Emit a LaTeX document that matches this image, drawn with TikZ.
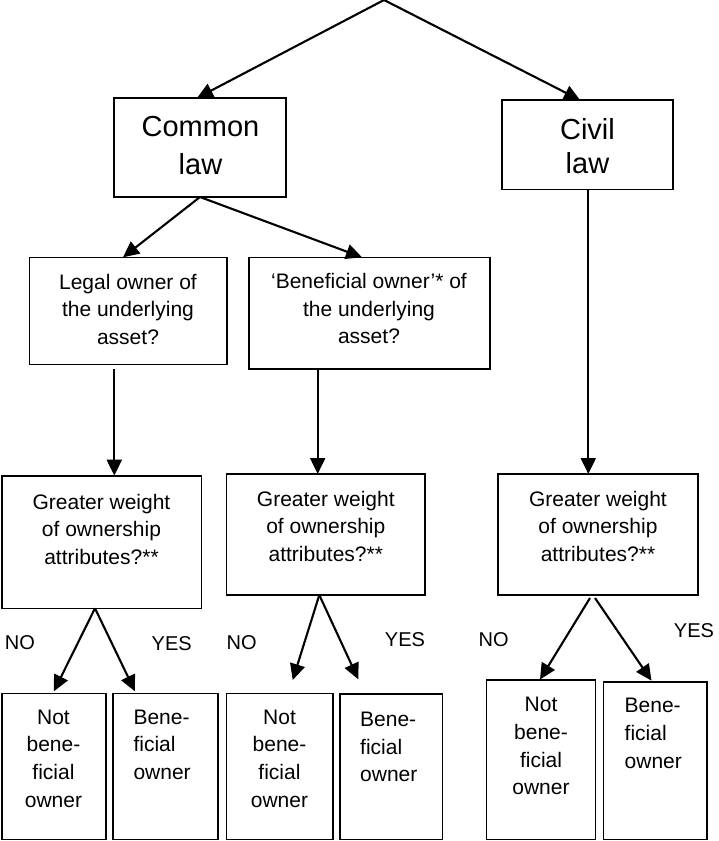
\documentclass[tikz,border=0pt]{standalone}
\usepackage{fontspec}
\setmainfont{Liberation Sans}
\usetikzlibrary{arrows.meta}
\newcommand\ctab[1]{\begin{tabular}[t]{@{}c@{}}#1\end{tabular}}
\newcommand\ltab[1]{\begin{tabular}[t]{@{}l@{}}#1\end{tabular}}
\begin{document}
\begin{tikzpicture}[x=1pt,y=-1pt,
  box/.style={draw, line width=1.6pt, rectangle, inner sep=0pt, outer sep=0pt},
  arr/.style={line width=2.1pt, -{Triangle[length=16pt,width=15pt]}},
  bigtxt/.style={inner sep=0pt, font=\fontsize{29}{38}\selectfont},
  civtxt/.style={inner sep=0pt, font=\fontsize{29}{34}\selectfont},
  smtxt/.style={inner sep=0pt, font=\fontsize{21}{27.7}\selectfont},
  lbl/.style={inner sep=0pt, font=\fontsize{20}{24}\selectfont}]
\useasboundingbox (0,0) rectangle (719,841);
\fill[white] (0,0) rectangle (719,841);
% boxes
\node[box, minimum width=172pt, minimum height=99pt] (common) at (200,147.5) {};
\node[box, minimum width=171pt, minimum height=89.5pt] (civil) at (587.5,144.75) {};
\node[box, minimum width=197.4pt, minimum height=107pt] (legal) at (128,310.8) {};
\node[box, minimum width=241.3pt, minimum height=111.7pt] (benef) at (369.35,313.15) {};
\node[box, minimum width=199.3pt, minimum height=132.6pt] (gw1) at (101.85,542) {};
\node[box, minimum width=198.5pt, minimum height=121pt] (gw2) at (325.75,534.5) {};
\node[box, minimum width=200pt, minimum height=121pt] (gw3) at (598,534.5) {};
\node[box, minimum width=104.2pt, minimum height=146.2pt] (nb1) at (53.9,766.4) {};
\node[box, minimum width=105.5pt, minimum height=146.2pt] (b1) at (165.45,766.4) {};
\node[box, minimum width=106.7pt, minimum height=146.2pt] (nb2) at (279.85,766.4) {};
\node[box, minimum width=102.7pt, minimum height=145.5pt] (b2) at (391.05,766.75) {};
\node[box, minimum width=109pt, minimum height=159.5pt] (nb3) at (541,759.75) {};
\node[box, minimum width=103.5pt, minimum height=157.8pt] (b3) at (655.25,760.6) {};
% texts
\node[bigtxt, anchor=base] (commonT) at (200.5,136.7) {\ctab{Common\\law}};
\node[civtxt, anchor=base] (civilT) at (587.5,139.3) {\ctab{Civil\\law}};
\node[smtxt, anchor=base] (legalT) at (128,289) {\ctab{Legal owner of\\the underlying\\asset?}};
\node[smtxt, anchor=base] (benefT) at (369,288.5) {\ctab{‘Beneficial owner’* of\\the underlying\\asset?}};
\node[smtxt, anchor=base] (gw1T) at (101.5,509) {\ctab{Greater weight\\of ownership\\attributes?**}};
\node[smtxt, anchor=base] (gw2T) at (325.8,506) {\ctab{Greater weight\\of ownership\\attributes?**}};
\node[smtxt, anchor=base] (gw3T) at (598,506) {\ctab{Greater weight\\of ownership\\attributes?**}};
\node[smtxt, anchor=base] (nb1T) at (53.5,724) {\ctab{Not\\bene-\\ficial\\owner}};
\node[smtxt, anchor=base west] (b1T) at (133.3,724) {\ltab{Bene-\\ficial\\owner}};
\node[smtxt, anchor=base] (nb2T) at (279.5,724) {\ctab{Not\\bene-\\ficial\\owner}};
\node[smtxt, anchor=base west] (b2T) at (360,726.5) {\ltab{Bene-\\ficial\\owner}};
\node[smtxt, anchor=base] (nb3T) at (541,711.7) {\ctab{Not\\bene-\\ficial\\owner}};
\node[smtxt, anchor=base west] (b3T) at (624.5,712.7) {\ltab{Bene-\\ficial\\owner}};
% labels
\node[lbl] (no1) at (20,642.5) {NO};
\node[lbl] (yes1) at (171.7,644) {YES};
\node[lbl] (no2) at (241.7,643) {NO};
\node[lbl] (yes2) at (405,639.5) {YES};
\node[lbl] (no3) at (493.6,640) {NO};
\node[lbl] (yes3) at (694,631) {YES};
% connectors
\coordinate (top) at (384,0);
\draw[arr] (top) -- ([xshift=-3pt]common.north);
\draw[arr] (top) -- ([xshift=-7.5pt]civil.north);
\draw[arr] (common.south) -- ([xshift=-5pt]legal.north);
\draw[arr] (common.south) -- ([xshift=-7.35pt]benef.north);
\coordinate (vA) at (114.3,0);
\coordinate (vB) at (317.7,0);
\coordinate (vC) at (588.3,0);
\draw[arr, shorten <=5pt] (legal.south -| vA) -- (gw1.north -| vA);
\draw[arr] (benef.south -| vB) -- (gw2.north -| vB);
\draw[arr] (civil.south -| vC) -- (gw3.north -| vC);
\draw[arr] ([xshift=-6.85pt]gw1.south) -- ([yshift=2pt]nb1.north);
\draw[arr] ([xshift=-6.85pt]gw1.south) -- ([xshift=-30.5pt,yshift=2pt]b1.north);
\draw[arr] ([xshift=-6.45pt]gw2.south) -- ([xshift=12.85pt,yshift=13.3pt]nb2.north);
\draw[arr] ([xshift=-6.45pt]gw2.south) -- ([xshift=-32.75pt,yshift=14.7pt]b2.north);
\draw[arr] ([xshift=-8pt,yshift=-3pt]gw3.south) -- ([xshift=-1pt,yshift=0.5pt]nb3.north);
\draw[arr] ([xshift=-3pt,yshift=-3pt]gw3.south) -- ([xshift=-3.75pt,yshift=1pt]b3.north);
\end{tikzpicture}
\end{document}
